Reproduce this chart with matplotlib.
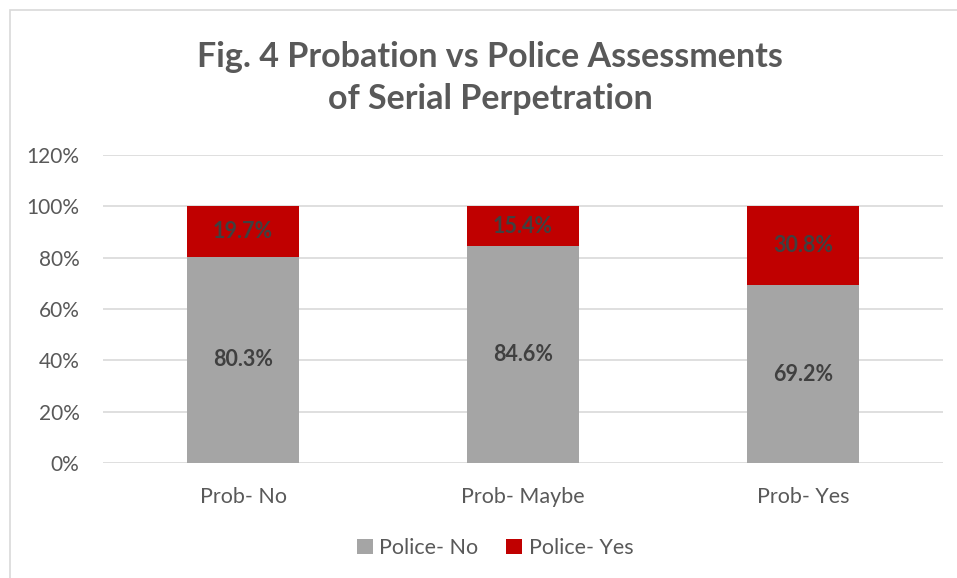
import matplotlib.pyplot as plt
import matplotlib.patches as patches
import numpy as np

plt.rcParams.update({'font.family': ['Lato', 'DejaVu Sans']})

categories = ['Prob- No', 'Prob- Maybe', 'Prob- Yes']
police_no = [80.3, 84.6, 69.2]
police_yes = [19.7, 15.4, 30.8]
series_names = ['Police- No', 'Police- Yes']
colors = ['#a5a5a5', '#c00000']

fig = plt.figure(figsize=(9.57, 5.78), dpi=100)
ax = fig.add_axes([103 / 957, 1 - 463 / 578, 840 / 957, 308 / 578])

x = np.arange(len(categories))
b1 = ax.bar(x, police_no, width=0.4, color=colors[0], label=series_names[0], zorder=3)
b2 = ax.bar(x, police_yes, width=0.4, bottom=police_no, color=colors[1],
            label=series_names[1], zorder=3)

for bars, vals, bottoms in [(b1, police_no, [0] * 3), (b2, police_yes, police_no)]:
    for rect, v, b in zip(bars, vals, bottoms):
        ax.text(rect.get_x() + rect.get_width() / 2, b + v / 2, f'{v:.1f}%',
                ha='center', va='center', fontsize=15.5, fontweight='bold',
                color='#404040', zorder=4)

ax.set_xlim(-0.5, 2.5)
ax.set_ylim(0, 120)
ax.set_yticks(range(0, 121, 20))
ax.set_yticklabels([f'{v}%' for v in range(0, 121, 20)])
ax.set_xticks(x)
ax.set_xticklabels(categories)
ax.tick_params(axis='both', length=0, labelcolor='#595959')
ax.tick_params(axis='y', pad=17, labelsize=15)
ax.tick_params(axis='x', pad=17, labelsize=15.5)
ax.grid(axis='y', color='#d9d9d9', linewidth=1.2, zorder=0)
for s in ax.spines.values():
    s.set_visible(False)

fig.text(490 / 957, 1 - 78 / 578, 'Fig. 4 Probation vs Police Assessments\nof Serial Perpetration',
         ha='center', va='center', fontsize=24.5, fontweight='bold', color='#595959',
         linespacing=1.4)

leg = fig.legend(handles=[b1, b2], loc='center', bbox_to_anchor=(495 / 957, 1 - 548 / 578),
                 ncol=2, frameon=False, fontsize=15.5, handlelength=0.75, handleheight=0.75,
                 handletextpad=0.3, columnspacing=1.3)
for t in leg.get_texts():
    t.set_color('#595959')

# chart border
fig.patches.append(patches.Rectangle((10 / 957, -0.1), 1.2, 1 - 10 / 578 + 0.1,
                                     transform=fig.transFigure, fill=False,
                                     edgecolor='#d9d9d9', linewidth=1.2))

fig.savefig('out.png', dpi=100)
